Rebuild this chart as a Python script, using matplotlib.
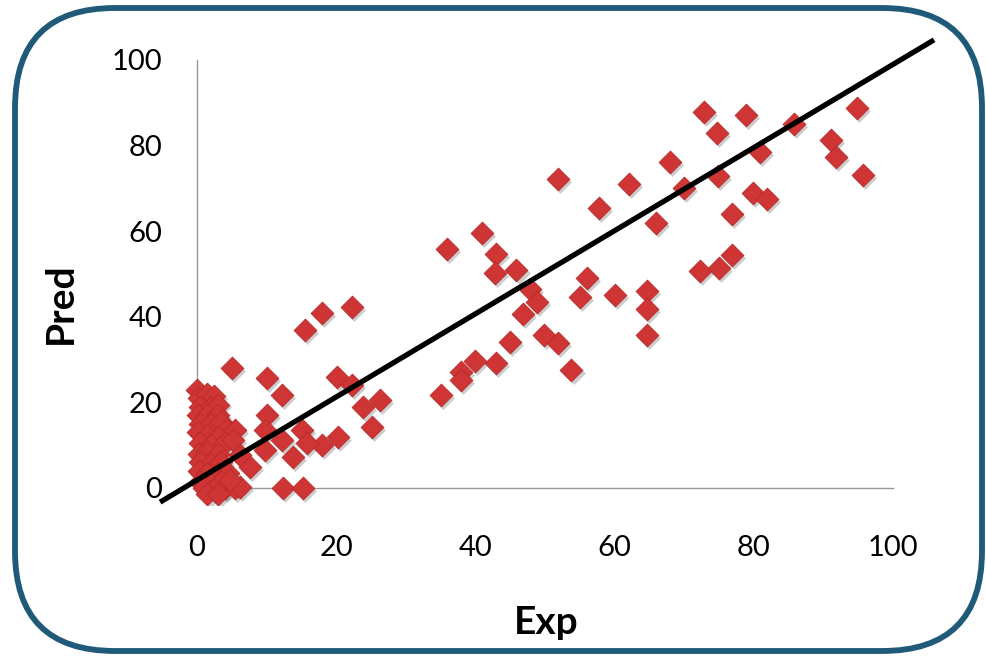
import numpy as np
import matplotlib
matplotlib.use("Agg")
import matplotlib.pyplot as plt
import matplotlib.transforms as mtransforms
from matplotlib.patches import FancyBboxPatch

plt.rcParams['font.family'] = ['Lato', 'DejaVu Sans']

exp_vals = [
    # dense cluster near the origin
    0.0, 0.3, 1.5, 2.5, 0.5, 2.0, 3.0, 0.2, 1.5, 3.0, 0.5, 2.0, 3.5, 4.3, 5.5,
    0.2, 1.5, 3.0, 0.5, 2.0, 4.0, 5.2, 0.3, 1.5, 3.0, 0.5, 2.0, 3.5, 0.3, 1.5,
    3.0, 4.5, 0.5, 2.0, 3.5, 5.0, 6.2, 1.0, 2.5, 4.0, 5.5, 1.5, 3.0, 6.2, 7.6,
    4.7,
    # low range
    5.0, 10.0, 12.2, 20.1, 22.2, 26.3, 23.9, 25.1, 10.0, 9.8, 15.1, 20.2, 17.9,
    15.8, 12.2, 9.8, 13.8, 12.3, 15.2, 15.5, 17.9, 22.2,
    # mid range
    35.9, 40.9, 42.9, 42.8, 45.9, 47.8, 48.9, 46.8, 56.0, 55.0, 60.1, 64.7, 64.7,
    64.7, 57.8, 66.0, 49.9, 51.8, 44.9, 53.8, 39.9, 42.9, 37.9, 37.9, 35.1, 51.8,
    62.0,
    # high range
    72.9, 78.9, 74.7, 85.8, 94.8, 67.9, 80.9, 91.1, 91.8, 95.7, 69.9, 74.9, 79.9,
    81.9, 76.9, 72.2, 75.0, 76.9,
]
pred_vals = [
    23.0, 21.0, 22.0, 21.5, 19.0, 19.0, 19.5, 17.0, 17.0, 17.0, 15.0, 15.0, 15.5,
    13.5, 13.5, 13.0, 12.5, 12.0, 10.5, 10.0, 10.5, 11.2, 8.0, 8.5, 8.0, 6.0, 5.5,
    6.0, 4.0, 3.5, 3.5, 3.5, 1.5, 1.0, 1.5, 1.0, 7.7, 0.0, -0.5, 0.0, 0.0, -1.5,
    -1.5, 0.2, 4.9, 1.9,
    28.0, 25.7, 21.7, 25.9, 24.1, 20.6, 18.9, 14.3, 17.1, 13.6, 13.6, 11.9, 10.0,
    10.5, 11.2, 8.9, 7.2, 0.0, 0.0, 36.9, 40.9, 42.3,
    55.8, 59.6, 54.7, 50.2, 50.9, 46.5, 43.5, 40.7, 49.1, 44.6, 45.1, 46.0, 41.8,
    35.7, 65.4, 61.9, 35.7, 33.9, 34.1, 27.6, 29.7, 29.2, 27.1, 25.2, 21.7, 72.2,
    71.0,
    87.9, 87.1, 82.9, 85.0, 88.8, 76.2, 78.5, 81.3, 77.3, 73.1, 70.1, 72.9, 68.9,
    67.5, 64.0, 50.7, 51.4, 54.4,
]

# reference line end points
line_x = [-5.3, 105.9]
line_y = [-3.3, 104.7]

x_ticks = [0, 20, 40, 60, 80, 100]
y_ticks = [0, 20, 40, 60, 80, 100]

fig = plt.figure(figsize=(9.87, 6.57), dpi=100)

# rounded frame around the whole chart
bg = fig.add_axes([0, 0, 1, 1])
bg.set_xlim(0, 987)
bg.set_ylim(0, 657)
bg.axis('off')
bg.add_patch(FancyBboxPatch((15, 6), 967, 643,
                            boxstyle="round,pad=0,rounding_size=100",
                            fc='white', ec='#1f5a78', lw=4.2))

# data axes: x 0 -> px 197, 100 -> px 893 ; y 0 -> px 488, 100 -> px 60
x0, x1 = -5.5, 107.0
y0, y1 = -4.0, 106.0
px_l = 197 + x0 * 6.96
px_r = 197 + x1 * 6.96
py_b = 488 - y0 * 4.28
py_t = 488 - y1 * 4.28
ax = fig.add_axes([px_l / 987, 1 - py_b / 657,
                   (px_r - px_l) / 987, (py_b - py_t) / 657])
ax.set_xlim(x0, x1)
ax.set_ylim(y0, y1)
ax.patch.set_alpha(0)

for s in ['top', 'right']:
    ax.spines[s].set_visible(False)
ax.spines['left'].set_position(('data', 0))
ax.spines['bottom'].set_position(('data', 0))
ax.spines['left'].set_bounds(0, 100)
ax.spines['bottom'].set_bounds(0, 100)
for s in ['left', 'bottom']:
    ax.spines[s].set_color('#9a9a9a')
    ax.spines[s].set_linewidth(1.0)
    ax.spines[s].set_zorder(0)

ax.set_xticks(x_ticks)
ax.set_yticks(y_ticks)
ax.tick_params(axis='x', length=0, pad=34, labelsize=21)
ax.tick_params(axis='y', length=0, pad=25, labelsize=21)

# drop shadow under the markers
shadow = ax.transData + mtransforms.ScaledTranslation(1.5 / 72, -2.0 / 72, fig.dpi_scale_trans)
ax.scatter(exp_vals, pred_vals, marker='D', s=135, color='#6e6e6e', alpha=0.35,
           linewidths=0, transform=shadow, zorder=2)
ax.scatter(exp_vals, pred_vals, marker='D', s=135, color='#cf3535',
           edgecolors='#b82a2a', linewidths=0.6, zorder=3)

ax.plot(line_x, line_y, color='black', lw=3.8, solid_capstyle='butt',
        clip_on=False, zorder=4)

fig.text(546 / 987, 1 - 622 / 657, 'Exp', ha='center', va='center',
         fontsize=28, fontweight='bold')
fig.text(60 / 987, 1 - 303 / 657, 'Pred', ha='center', va='center',
         fontsize=28, fontweight='bold', rotation=90)

fig.savefig('out.png', dpi=100)
